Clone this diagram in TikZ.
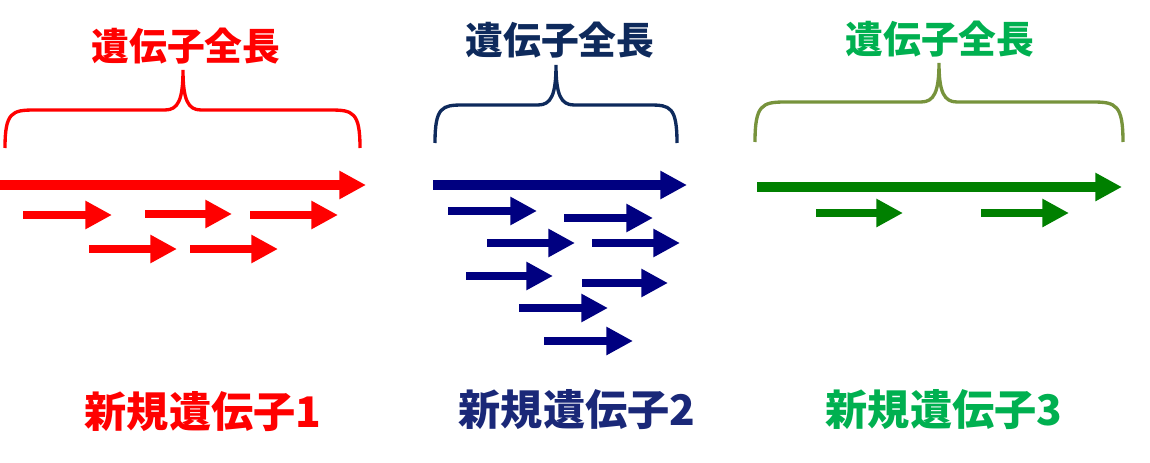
\documentclass[tikz,border=0pt]{standalone}
\usepackage{fontspec}
\usepackage{xcolor}
\usepackage{tikz}
\usetikzlibrary{arrows.meta}
\newfontfamily\jpfont{Noto Sans CJK JP}
\definecolor{genered}{HTML}{FF0000}
\definecolor{genenavy}{HTML}{0E2A5C}
\definecolor{genelabelblue}{HTML}{1A2878}
\definecolor{genearrowblue}{HTML}{000080}
\definecolor{genegreen}{HTML}{00B050}
\definecolor{braceolive}{HTML}{77933C}
\definecolor{genearrowgreen}{HTML}{008000}
\tikzstyle{fullarrow} = [line width=5.6pt, -{Triangle[length=15.2pt,width=15.2pt]}]
\tikzstyle{readarrow} = [line width=4.8pt, -{Triangle[length=15.2pt,width=15.2pt]}]
\tikzstyle{genebrace} = [line width=1.9pt]
\tikzstyle{fulllength} = [inner sep=0pt, font=\jpfont\bfseries\fontsize{21.5pt}{21.5pt}\selectfont]
\tikzstyle{genename} = [inner sep=0pt, font=\jpfont\bfseries\fontsize{24pt}{24pt}\selectfont]

\begin{document}
\begin{tikzpicture}[x=0.02cm, y=-0.02cm]
\useasboundingbox (0,0) rectangle (1150,463);

% gene 1
\node[fulllength, text=genered] (lengthone) at (186,46) {遺伝子全長};
\draw[genebrace, genered] (5,148) .. controls (5,112) and (12,110) .. (35,110)
  -- (165,110) .. controls (178,110) and (183,100) .. (183,70)
  .. controls (183,100) and (188,110) .. (201,110)
  -- (330,110) .. controls (353,110) and (360,112) .. (360,148);
\draw[fullarrow, genered] (0,185) -- (366,185);
\draw[readarrow, genered] (23,215) -- (112,215);
\draw[readarrow, genered] (145,214) -- (232,214);
\draw[readarrow, genered] (250,215) -- (338,215);
\draw[readarrow, genered] (89,249) -- (177,249);
\draw[readarrow, genered] (190,249) -- (278,249);
\node[genename, text=genered] (geneone) at (203,412) {新規遺伝子1};

% gene 2
\node[fulllength, text=genenavy] (lengthtwo) at (560,40) {遺伝子全長};
\draw[genebrace, genenavy] (435,143) .. controls (435,107) and (442,105) .. (463,105)
  -- (538,105) .. controls (551,105) and (556,95) .. (556,65)
  .. controls (556,95) and (561,105) .. (574,105)
  -- (650,105) .. controls (670,105) and (677,107) .. (677,143);
\draw[fullarrow, genearrowblue] (433,185) -- (687,185);
\draw[readarrow, genearrowblue] (448,211) -- (537,211);
\draw[readarrow, genearrowblue] (564,218) -- (653,218);
\draw[readarrow, genearrowblue] (487,243) -- (575,243);
\draw[readarrow, genearrowblue] (592,243) -- (680,243);
\draw[readarrow, genearrowblue] (466,276) -- (553,276);
\draw[readarrow, genearrowblue] (582,283) -- (668,283);
\draw[readarrow, genearrowblue] (519,308) -- (608,308);
\draw[readarrow, genearrowblue] (544,341) -- (633,341);
\node[genename, text=genelabelblue] (genetwo) at (577,410) {新規遺伝子2};

% gene 3
\node[fulllength, text=genegreen] (lengththree) at (940,39) {遺伝子全長};
\draw[genebrace, braceolive] (755,142) .. controls (755,105) and (762,102) .. (785,102)
  -- (921,102) .. controls (934,102) and (939,92) .. (939,63)
  .. controls (939,92) and (944,102) .. (957,102)
  -- (1093,102) .. controls (1116,102) and (1123,105) .. (1123,142);
\draw[fullarrow, genearrowgreen] (757,187) -- (1122,187);
\draw[readarrow, genearrowgreen] (816,213) -- (903,213);
\draw[readarrow, genearrowgreen] (981,213) -- (1069,213);
\node[genename, text=genegreen] (genethree) at (944,410) {新規遺伝子3};
\end{tikzpicture}
\end{document}
